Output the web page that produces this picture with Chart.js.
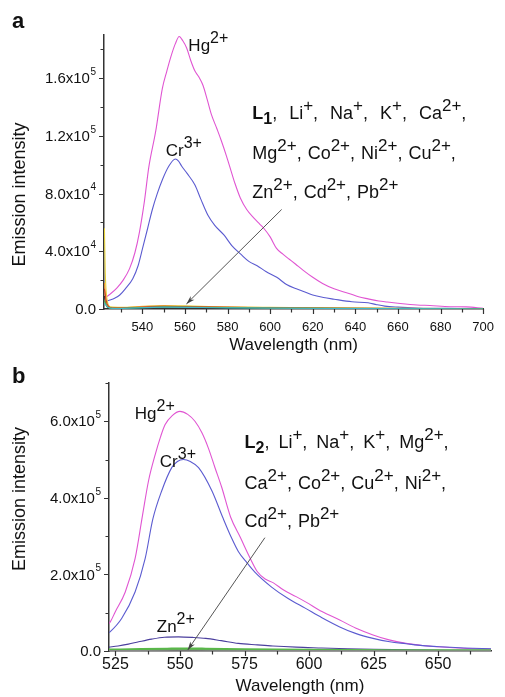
<!DOCTYPE html>
<html>
<head>
<meta charset="utf-8">
<script src="https://cdn.jsdelivr.net/npm/chart.js@4.4.1/dist/chart.umd.min.js"></script>
<style>
  html, body { margin: 0; padding: 0; background: #fff; overflow: hidden; }
  #wrapA { position: absolute; left: 0; top: 0; width: 505px; height: 360px; }
  #wrapB { position: absolute; left: 0; top: 360px; width: 505px; height: 340px; }
</style>
</head>
<body>
<div id="wrapA"><canvas id="chartA" width="505" height="360"></canvas></div>
<div id="wrapB"><canvas id="chartB" width="505" height="340"></canvas></div>
<script>
const FAMILY = "'Liberation Sans', Arial, Helvetica, sans-serif";

// ---- panel a : L1 ----
const hgA_nm = [522.3, 523.2, 525, 528, 531, 534, 536.5, 538.6, 541, 543, 546.3, 549.4, 551.5, 553.2, 555.5, 557.3, 559, 560.8, 562.8, 564.7, 566.5, 568.5, 570.5, 572.4, 575, 577, 579.5, 581.6, 583.5, 586, 589, 592.4, 595, 597, 600, 603, 606, 609, 612, 615.4, 620, 624.6, 630, 637, 641.5, 646, 651, 655, 660, 669, 675, 684.5, 692, 700];
const hgA    = [8.0e3, 8.5e3, 1.05e4, 1.45e4, 2.0e4, 2.8e4, 3.9e4, 5.3e4, 7.5e4, 9.8e4, 1.235e5, 1.53e5, 1.65e5, 1.74e5, 1.84e5, 1.89e5, 1.86e5, 1.81e5, 1.72e5, 1.65e5, 1.61e5, 1.55e5, 1.45e5, 1.35e5, 1.25e5, 1.17e5, 1.06e5, 9.6e4, 8.7e4, 7.7e4, 6.9e4, 6.3e4, 5.9e4, 5.6e4, 5.0e4, 4.2e4, 3.8e4, 3.45e4, 3.1e4, 2.7e4, 2.2e4, 1.77e4, 1.4e4, 1.08e4, 8.5e3, 7.0e3, 5.5e3, 4.8e3, 4.0e3, 2.8e3, 2.4e3, 1.6e3, 1.5e3, 500];

const crA_nm = [522.3, 524.8, 527, 529.4, 532, 535.5, 538, 540.1, 542.5, 544.7, 547, 549.5, 552.4, 555.5, 557, 558.5, 561, 564.7, 567.5, 570.8, 574, 578.5, 582, 586.2, 590, 593.9, 598, 603.1, 607.7, 612.3, 616, 620, 625, 630, 638.4, 646, 650, 653.8, 660, 669, 680, 690, 700];
const crA    = [5.0e3, 6.2e3, 7.5e3, 9.7e3, 1.4e4, 2.1e4, 3.0e4, 4.2e4, 5.6e4, 6.9e4, 8.0e4, 9.0e4, 9.9e4, 1.04e5, 1.025e5, 9.9e4, 9.4e4, 8.6e4, 7.6e4, 6.5e4, 5.8e4, 5.1e4, 4.4e4, 3.8e4, 3.3e4, 3.0e4, 2.6e4, 2.2e4, 1.7e4, 1.4e4, 1.2e4, 9.7e3, 8.0e3, 6.8e3, 5.0e3, 4.3e3, 3.0e3, 2.0e3, 1.3e3, 700, 500, 300, 0];

const yellowA_nm = [522.2, 522.6, 523.5, 525, 530, 540, 550, 560, 575, 600, 630, 660, 700];
const yellowA    = [5.6e4, 2.5e4, 6e3, 1.5e3, 1.2e3, 1.8e3, 2.4e3, 2.2e3, 1.6e3, 1.1e3, 700, 400, 200];
const orangeA_nm = [522.2, 523, 525, 548, 575, 620, 700];
const orangeA    = [1.8e4, 4e3, 800, 2e3, 1.3e3, 600, 100];
const redA_nm    = [522.2, 523, 524, 526, 540, 550, 565, 590, 620, 660, 700];
const redA       = [1.4e4, 6e3, 2e3, 600, 1.2e3, 1.8e3, 1.5e3, 1e3, 600, 300, 100];
const blackA_nm  = [522.2, 523, 525, 535, 550, 570, 600, 650, 700];
const blackA     = [9e3, 3e3, 500, 600, 1.2e3, 1e3, 600, 200, 0];
const greenA_nm  = [522.2, 523.5, 526, 550, 600, 700];
const greenA     = [6e3, 1.5e3, 400, 1.4e3, 700, 100];
const cyanA_nm   = [522.2, 524, 527, 550, 580, 640, 700];
const cyanA      = [4e3, 1e3, 300, 1.3e3, 800, 300, 0];

const yTickValsA = [0, 4e4, 8e4, 1.2e5, 1.6e5];
const yTickTextA = [['0.0', ''], ['4.0x10', '4'], ['8.0x10', '4'], ['1.2x10', '5'], ['1.6x10', '5']];

// ---- panel b : L2 ----
const hgB_nm = [522.5, 523, 524.9, 528.8, 532.6, 535.5, 537.8, 540.4, 542.5, 544.2, 547, 550, 553, 555.8, 558.5, 561, 563.5, 566.2, 569.6, 573.5, 577, 580, 583, 586.2, 590, 595, 599, 605, 611.9, 618, 624.8, 631, 637.6, 644, 650.4, 660, 670.5];
const hgB    = [7.2e4, 7.6e4, 1.02e5, 1.54e5, 2.41e5, 3.55e5, 4.44e5, 5.13e5, 5.6e5, 5.91e5, 6.15e5, 6.26e5, 6.18e5, 6.0e5, 5.7e5, 5.3e5, 4.8e5, 4.27e5, 3.5e5, 2.95e5, 2.45e5, 2.07e5, 1.88e5, 1.78e5, 1.6e5, 1.42e5, 1.27e5, 1.03e5, 8.1e4, 6.0e4, 4.2e4, 2.9e4, 2.0e4, 1.45e4, 1.1e4, 7e3, 5e3];

const crB_nm = [522.5, 522.9, 527.4, 532.6, 536.5, 539.5, 542.9, 546.8, 549, 551.3, 554, 557.2, 562.4, 566.5, 570, 572.6, 576, 579, 585.5, 591.9, 598.5, 605, 611.9, 618, 624.8, 631.3, 637.6, 644, 650.4, 660, 670.5];
const crB    = [4.8e4, 5.0e4, 8.5e4, 1.54e5, 2.41e5, 3.45e5, 4.18e5, 4.79e5, 4.95e5, 5.0e5, 4.95e5, 4.79e5, 4.18e5, 3.5e5, 2.95e5, 2.6e5, 2.3e5, 2.06e5, 1.67e5, 1.37e5, 1.12e5, 8.7e4, 6.3e4, 4.6e4, 3.3e4, 2.4e4, 1.9e4, 1.4e4, 1.1e4, 8e3, 6e3];

const znB_nm = [522.5, 526, 530, 534, 539, 544, 549.4, 555, 560, 566, 572.6, 580, 586, 595, 605, 615, 625, 640, 655, 670.5];
const znB    = [1.0e4, 1.3e4, 1.8e4, 2.4e4, 3.1e4, 3.6e4, 3.7e4, 3.55e4, 3.3e4, 2.7e4, 2.0e4, 1.6e4, 1.3e4, 1.0e4, 8e3, 6e3, 4.5e3, 3e3, 2e3, 1.5e3];

const greenB_nm = [522.5, 535, 545, 552, 560, 575, 600, 630, 670.5];
const greenB    = [3e3, 4.5e3, 5.5e3, 6e3, 5.5e3, 4e3, 2.5e3, 1.5e3, 1e3];
const grayB_nm  = [522.5, 550, 600, 670.5];
const grayB     = [1e3, 2e3, 1e3, 300];

const yTickValsB = [0, 2e5, 4e5, 6e5];
const yTickTextB = [['0.0', ''], ['2.0x10', '5'], ['4.0x10', '5'], ['6.0x10', '5']];

// annotation texts: [text, kind]
const hgLabel = [['Hg', ''], ['2+', 'sup']];
const crLabel = [['Cr', ''], ['3+', 'sup']];
const znLabel = [['Zn', ''], ['2+', 'sup']];
const restA = [
  [['L', 'b'], ['1', 'bsub'], [', Li', ''], ['+', 'sup'], [', Na', ''], ['+', 'sup'], [', K', ''], ['+', 'sup'], [', Ca', ''], ['2+', 'sup'], [',', '']],
  [['Mg', ''], ['2+', 'sup'], [', Co', ''], ['2+', 'sup'], [', Ni', ''], ['2+', 'sup'], [', Cu', ''], ['2+', 'sup'], [',', '']],
  [['Zn', ''], ['2+', 'sup'], [', Cd', ''], ['2+', 'sup'], [', Pb', ''], ['2+', 'sup']]
];
const restB = [
  [['L', 'b'], ['2', 'bsub'], [', Li', ''], ['+', 'sup'], [', Na', ''], ['+', 'sup'], [', K', ''], ['+', 'sup'], [', Mg', ''], ['2+', 'sup'], [',', '']],
  [['Ca', ''], ['2+', 'sup'], [', Co', ''], ['2+', 'sup'], [', Cu', ''], ['2+', 'sup'], [', Ni', ''], ['2+', 'sup'], [',', '']],
  [['Cd', ''], ['2+', 'sup'], [', Pb', ''], ['2+', 'sup']]
];

function series(nm, vals, color, width) {
  return {
    data: nm.map((x, i) => ({x: x, y: vals[i]})),
    borderColor: color,
    borderWidth: width || 1.1,
    pointRadius: 0,
    fill: false,
    cubicInterpolationMode: 'monotone'
  };
}

function drawRich(ctx, x, y, parts, size, gap) {
  parts.forEach(p => {
    let font = size + 'px ' + FAMILY, dy = 0, txt = p[0];
    if (p[1] === 'sup') { font = (size - 1) + 'px ' + FAMILY; dy = -8; }
    if (p[1] === 'b') font = 'bold ' + size + 'px ' + FAMILY;
    if (p[1] === 'bsub') { font = 'bold ' + (size - 2) + 'px ' + FAMILY; dy = 5; }
    ctx.font = font;
    if (gap && txt.startsWith(', ')) {
      ctx.fillText(',', x, y);
      x += ctx.measureText(',').width + gap;
      txt = txt.slice(1);
    }
    ctx.fillText(txt, x, y + dy);
    x += ctx.measureText(txt).width;
  });
}

const decor = {
  id: 'decor',
  afterDraw(chart, args, o) {
    const ctx = chart.ctx;
    const xs = chart.scales.x, ys = chart.scales.y;
    ctx.save();
    // tick marks, major and minor
    ctx.strokeStyle = '#333';
    ctx.lineWidth = 1.2;
    ctx.beginPath();
    for (let v = Math.ceil(xs.min / o.minorX - 1e-9) * o.minorX; v <= xs.max + 1e-9; v += o.minorX) {
      const px = Math.round(xs.getPixelForValue(v)) + 0.5;
      const major = xs.ticks.some(t => Math.abs(t.value - v) < 1e-6);
      ctx.moveTo(px, xs.top);
      ctx.lineTo(px, xs.top + (major ? 5 : 3.5));
    }
    for (let v = 0; v <= ys.max + 1e-9; v += o.minorY) {
      const py = Math.round(ys.getPixelForValue(v)) + 0.5;
      const major = ys.ticks.some(t => Math.abs(t.value - v) < 1);
      ctx.moveTo(ys.right, py);
      ctx.lineTo(ys.right - (major ? 5 : 3.5), py);
    }
    ctx.stroke();

    // y tick labels with raised exponents, placed by the y scale
    ctx.fillStyle = '#111';
    ctx.textBaseline = 'middle';
    o.yVals.forEach((v, i) => {
      const py = ys.getPixelForValue(v);
      const [mant, ex] = o.yText[i];
      let r = ys.right - 8;
      if (ex) {
        ctx.font = '10px ' + FAMILY;
        const w = ctx.measureText(ex).width;
        ctx.textAlign = 'left';
        ctx.fillText(ex, r - w, py - 6);
        r -= w + 0.5;
      }
      ctx.font = '15px ' + FAMILY;
      ctx.textAlign = 'right';
      ctx.fillText(mant, r, py + 1);
    });

    // arrow
    const a = o.arrow;
    const x1 = xs.getPixelForValue(a[0]), y1 = ys.getPixelForValue(a[1]);
    const x2 = xs.getPixelForValue(a[2]), y2 = ys.getPixelForValue(a[3]);
    const ang = Math.atan2(y2 - y1, x2 - x1);
    ctx.strokeStyle = '#555';
    ctx.lineWidth = 1;
    ctx.beginPath();
    ctx.moveTo(x1, y1);
    ctx.lineTo(x2, y2);
    ctx.stroke();
    ctx.fillStyle = '#444';
    ctx.beginPath();
    ctx.moveTo(x2, y2);
    ctx.lineTo(x2 - 9 * Math.cos(ang - 0.3), y2 - 9 * Math.sin(ang - 0.3));
    ctx.lineTo(x2 - 6 * Math.cos(ang), y2 - 6 * Math.sin(ang));
    ctx.lineTo(x2 - 9 * Math.cos(ang + 0.3), y2 - 9 * Math.sin(ang + 0.3));
    ctx.closePath();
    ctx.fill();

    // texts anchored in data coordinates
    ctx.fillStyle = '#111';
    ctx.textBaseline = 'alphabetic';
    ctx.textAlign = 'left';
    o.labels.forEach(l => {
      drawRich(ctx, xs.getPixelForValue(l.x), ys.getPixelForValue(l.y), l.parts, l.size, l.gap);
    });

    // panel letter
    ctx.font = 'bold 22px ' + FAMILY;
    ctx.fillText(o.letter, 12, o.letterY);
    ctx.restore();
  }
};

function makeChart(id, sets, cfg) {
  cfg.decor.yVals = cfg.yVals;
  cfg.decor.yText = cfg.yText;
  return new Chart(document.getElementById(id), {
    type: 'line',
    data: {datasets: sets},
    options: {
      responsive: false,
      animation: false,
      layout: {padding: {top: cfg.top, right: cfg.right, left: 0, bottom: 0}},
      plugins: {
        legend: {display: false},
        tooltip: {enabled: false},
        decor: cfg.decor
      },
      scales: {
        x: {
          type: 'linear',
          min: cfg.xMin, max: cfg.xMax,
          afterFit: s => { s.height = cfg.xHeight; },
          grid: {display: true, drawOnChartArea: false, drawTicks: false},
          border: {color: '#333', width: 1.5},
          ticks: {stepSize: cfg.xStep, includeBounds: false, padding: cfg.xPad, color: '#111', maxRotation: 0,
                  font: {size: cfg.xFont, family: FAMILY}},
          title: {display: true, text: 'Wavelength (nm)', color: '#111',
                  font: {size: 17, family: FAMILY}, padding: {top: 0, bottom: cfg.xTitlePad}}
        },
        y: {
          min: 0, max: cfg.yMax,
          afterFit: s => { s.width = cfg.yWidth; },
          afterBuildTicks: s => { s.ticks = cfg.yVals.map(v => ({value: v})); },
          grid: {display: true, drawOnChartArea: false, drawTicks: false},
          border: {color: '#333', width: 1.5},
          ticks: {display: false},
          title: {display: true, text: cfg.yTitle, color: '#111',
                  font: {size: 18, family: FAMILY}, padding: {top: 9, bottom: 0}}
        }
      }
    },
    plugins: [decor]
  });
}

makeChart('chartA', [
  series(cyanA_nm, cyanA, '#40b8c8'),
  series(greenA_nm, greenA, '#50b040'),
  series(redA_nm, redA, '#d04020'),
  series(orangeA_nm, orangeA, '#e89030'),
  series(yellowA_nm, yellowA, '#e6d23c'),
  series(blackA_nm, blackA, '#222222'),
  series(crA_nm, crA, '#5b5bd0'),
  series(hgA_nm, hgA, '#e055d2')
], {
  top: 35, right: 15, xHeight: 51, yWidth: 104,
  xMin: 522, xMax: 700, xStep: 20, xPad: 11, xFont: 13, xTitlePad: 4,
  yMax: 1.9e5, yVals: yTickValsA, yText: yTickTextA,
  yTitle: 'Emission intensity' + '\u2002'.repeat(5),
  decor: {
    letter: 'a', letterY: 28, minorX: 10, minorY: 2e4,
    arrow: [605.4, 6.9e4, 560.7, 3.5e3],
    labels: [
      {x: 561.6, y: 1.787e5, parts: hgLabel, size: 17},
      {x: 551.0, y: 1.063e5, parts: crLabel, size: 17},
      {x: 591.6, y: 1.318e5, parts: restA[0], size: 18, gap: 7},
      {x: 591.6, y: 1.042e5, parts: restA[1], size: 18, gap: 1},
      {x: 591.6, y: 7.73e4, parts: restA[2], size: 18, gap: 1}
    ]
  }
});

makeChart('chartB', [
  series(grayB_nm, grayB, '#888888'),
  series(greenB_nm, greenB, '#58b848', 2.5),
  series(znB_nm, znB, '#4b3f9e'),
  series(crB_nm, crB, '#5b5bd0'),
  series(hgB_nm, hgB, '#e055d2')
], {
  top: 23, right: 14, xHeight: 49, yWidth: 109,
  xMin: 522.5, xMax: 670.5, xStep: 25, xPad: 4, xFont: 16, xTitlePad: 3,
  yMax: 7.0e5, yVals: yTickValsB, yText: yTickTextB,
  yTitle: '\u2002'.repeat(4) + 'Emission intensity',
  decor: {
    letter: 'b', letterY: 23, minorX: 12.5, minorY: 1e5,
    arrow: [582.9, 2.96e5, 553, 2.6e3],
    labels: [
      {x: 532.5, y: 6.05e5, parts: hgLabel, size: 17},
      {x: 542.2, y: 4.80e5, parts: crLabel, size: 17},
      {x: 541.0, y: 4.93e4, parts: znLabel, size: 17},
      {x: 575.0, y: 5.30e5, parts: restB[0], size: 18, gap: 4},
      {x: 575.0, y: 4.23e5, parts: restB[1], size: 18, gap: 1},
      {x: 575.0, y: 3.25e5, parts: restB[2], size: 18, gap: 1}
    ]
  }
});
</script>
</body>
</html>
